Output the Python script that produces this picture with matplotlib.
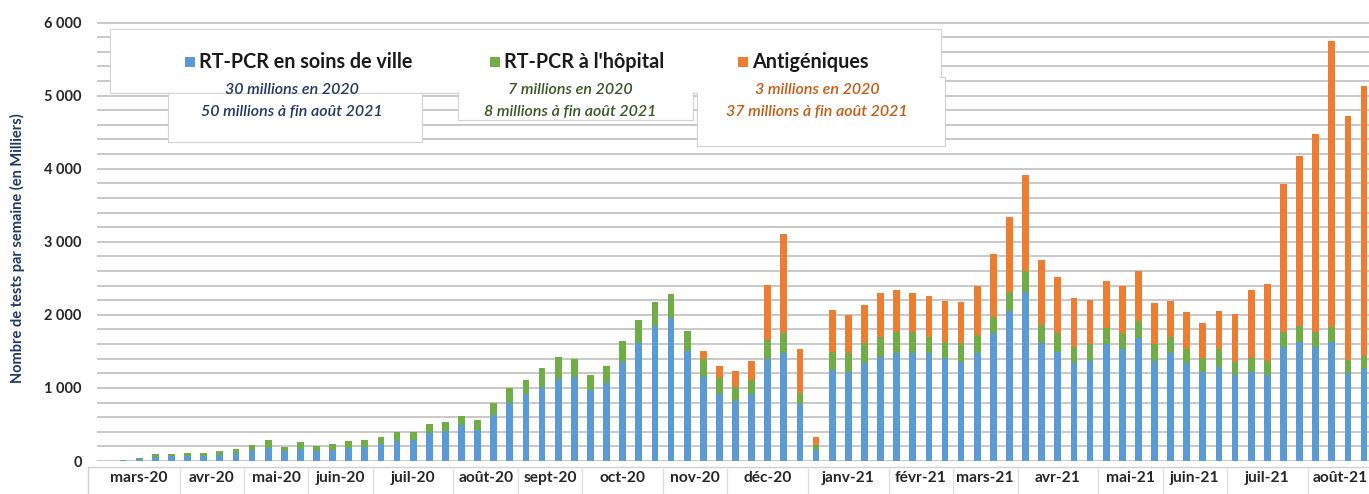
import numpy as np
import matplotlib.pyplot as plt
from matplotlib.patches import Rectangle
from matplotlib.ticker import MultipleLocator, FuncFormatter
import matplotlib.transforms as mtransforms

plt.rcParams['font.family'] = ['Lato', 'DejaVu Sans']

# --- data (milliers de tests par semaine) ---
months = ['mars-20', 'avr-20', 'mai-20', 'juin-20', 'juil-20', 'août-20', 'sept-20',
          'oct-20', 'nov-20', 'déc-20', 'janv-21', 'févr-21', 'mars-21', 'avr-21',
          'mai-21', 'juin-21', 'juil-21', 'août-21']
weeks_per_month = [5, 4, 4, 4, 5, 4, 4, 5, 4, 5, 5, 4, 4, 5, 4, 4, 5, 4]

ville = [3, 8, 25, 60, 65, 75, 75, 85, 105, 150, 180, 130, 170, 140, 150, 175, 185, 230,
         274, 288, 379, 416, 493, 425, 630, 790, 918, 1018, 1125, 1155, 973, 1064, 1361,
         1612, 1849, 1963, 1507, 1155, 913, 826, 913, 1393, 1475, 781, 151, 1247, 1224,
         1347, 1429, 1484, 1484, 1475, 1406, 1361, 1484, 1758, 2046, 2311, 1612, 1489,
         1338, 1374, 1603, 1530, 1680, 1374, 1475, 1347, 1224, 1292, 1178, 1224, 1178,
         1566, 1635, 1566, 1635, 1201, 1256]
hopital = [2, 4, 20, 35, 35, 40, 40, 50, 65, 70, 110, 65, 90, 70, 83, 94, 98, 99,
           119, 109, 132, 118, 128, 137, 160, 215, 196, 261, 300, 238, 210, 242, 283,
           315, 329, 325, 265, 237, 219, 183, 196, 256, 274, 146, 68, 251, 251,
           265, 274, 279, 279, 228, 228, 251, 242, 219, 260, 283, 251, 260,
           219, 228, 215, 219, 237, 228, 219, 183, 183, 237, 183, 183, 196,
           196, 215, 196, 196, 183, 174]
antigen = [0] * 37 + [119, 169, 228, 265, 753, 1356, 603, 114, 562, 516,
                      516, 594, 580, 539, 548, 553, 562, 671, 854, 1027, 1324, 881, 767,
                      676, 603, 639, 648, 685, 566, 498, 507, 479, 521, 648, 927, 1050,
                      2027, 2320, 2717, 3922, 3333, 3699]

c_blue, c_green, c_orange = '#5B9BD5', '#70AD47', '#ED7D31'

W, H = 1369, 494
fig = plt.figure(figsize=(W / 100, H / 100), dpi=100)
ax = fig.add_axes([97 / W, 1 - 461 / H, (W - 97) / W, (461 - 22.5) / H])

x = np.arange(len(ville))
ville = np.array(ville)
hopital = np.array(hopital)
antigen = np.array(antigen)
bw = 0.42
ax.bar(x, ville, bw, color=c_blue, zorder=3)
ax.bar(x, hopital, bw, bottom=ville, color=c_green, zorder=3)
ax.bar(x, antigen, bw, bottom=ville + hopital, color=c_orange, zorder=3)

ax.set_xlim(-0.62, len(x) - 1 + 0.31)
ax.set_ylim(0, 6000)
ax.yaxis.set_major_locator(MultipleLocator(1000))
ax.yaxis.set_minor_locator(MultipleLocator(200))
ax.yaxis.set_major_formatter(FuncFormatter(lambda v, p: f'{v:,.0f}'.replace(',', ' ')))
ax.grid(axis='y', which='both', color='#c4c4c4', lw=1.3, zorder=0)
ax.tick_params(axis='y', which='both', length=0, pad=11, labelsize=10.5, labelcolor='#262626')
for t in ax.get_yticklabels():
    t.set_fontweight('bold')
ax.set_xticks([])
for s in ax.spines.values():
    s.set_visible(False)

# category axis (months)
tr = mtransforms.blended_transform_factory(ax.transData, ax.transAxes)
ybase = -6 / 438.5
ax.plot([-1.2, len(x)], [ybase, ybase], transform=tr, color='#d0d0d0', lw=1, clip_on=False)
ax.plot([-1.2, -1.2], [ybase, -0.1], transform=tr, color='#d0d0d0', lw=1, clip_on=False)
bounds = np.cumsum(weeks_per_month)
start = 0
for m, n in zip(months, weeks_per_month):
    ax.text(start + (n - 1) / 2, -0.039, m, transform=tr, ha='center', va='center',
            fontsize=11.2, fontweight='bold', color='#262626')
    start += n
for b in bounds[:-1]:
    ax.plot([b - 0.5, b - 0.5], [ybase, -0.1], transform=tr, color='#e0e0e0', lw=1, clip_on=False)

fig.text(17 / W, 1 - 248 / H, 'Nombre de tests par semaine (en Milliers)', rotation=90,
         ha='center', va='center', fontsize=10.5, fontweight='bold', color='#1F3864')

# legend boxes: outlines first, then white fills to merge them into one shape
boxes = [(110, 29, 941, 93), (168, 93, 422, 142), (458, 80, 693, 120), (697, 77, 945, 146)]
for x0, y0, x1, y1 in boxes:
    fig.add_artist(Rectangle((x0 / W, 1 - y1 / H), (x1 - x0) / W, (y1 - y0) / H,
                             transform=fig.transFigure, facecolor='white',
                             edgecolor='#d4d4d4', lw=0.9, zorder=5))
for x0, y0, x1, y1 in boxes:
    fig.add_artist(Rectangle(((x0 + 1) / W, 1 - (y1 - 1) / H), (x1 - x0 - 2) / W,
                             (y1 - y0 - 2) / H, transform=fig.transFigure,
                             facecolor='white', edgecolor='none', zorder=5.5))

entries = [(185, 'RT-PCR en soins de ville', c_blue, 292, '#1F3864',
            '30 millions en 2020', '50 millions à fin août 2021'),
           (490, "RT-PCR à l'hôpital", c_green, 570, '#375623',
            '7 millions en 2020', '8 millions à fin août 2021'),
           (738, 'Antigéniques', c_orange, 817, '#C55A11',
            '3 millions en 2020', '37 millions à fin août 2021')]
for sx, label, col, cx, tcol, l1, l2 in entries:
    fig.add_artist(Rectangle((sx / W, 1 - 67 / H), 10 / W, 10 / H, transform=fig.transFigure,
                             facecolor=col, edgecolor='none', zorder=6))
    fig.text((sx + 14) / W, 1 - 62 / H, label, ha='left', va='center', fontsize=14.2,
             fontweight='bold', color='#1a1a1a', zorder=7)
    fig.text(cx / W, 1 - 89.5 / H, l1, ha='center', va='center', fontsize=11.5,
             fontstyle='italic', fontweight='semibold', color=tcol, zorder=7)
    fig.text(cx / W, 1 - 111.5 / H, l2, ha='center', va='center', fontsize=11.5,
             fontstyle='italic', fontweight='semibold', color=tcol, zorder=7)

fig.savefig('out.png', dpi=100)
